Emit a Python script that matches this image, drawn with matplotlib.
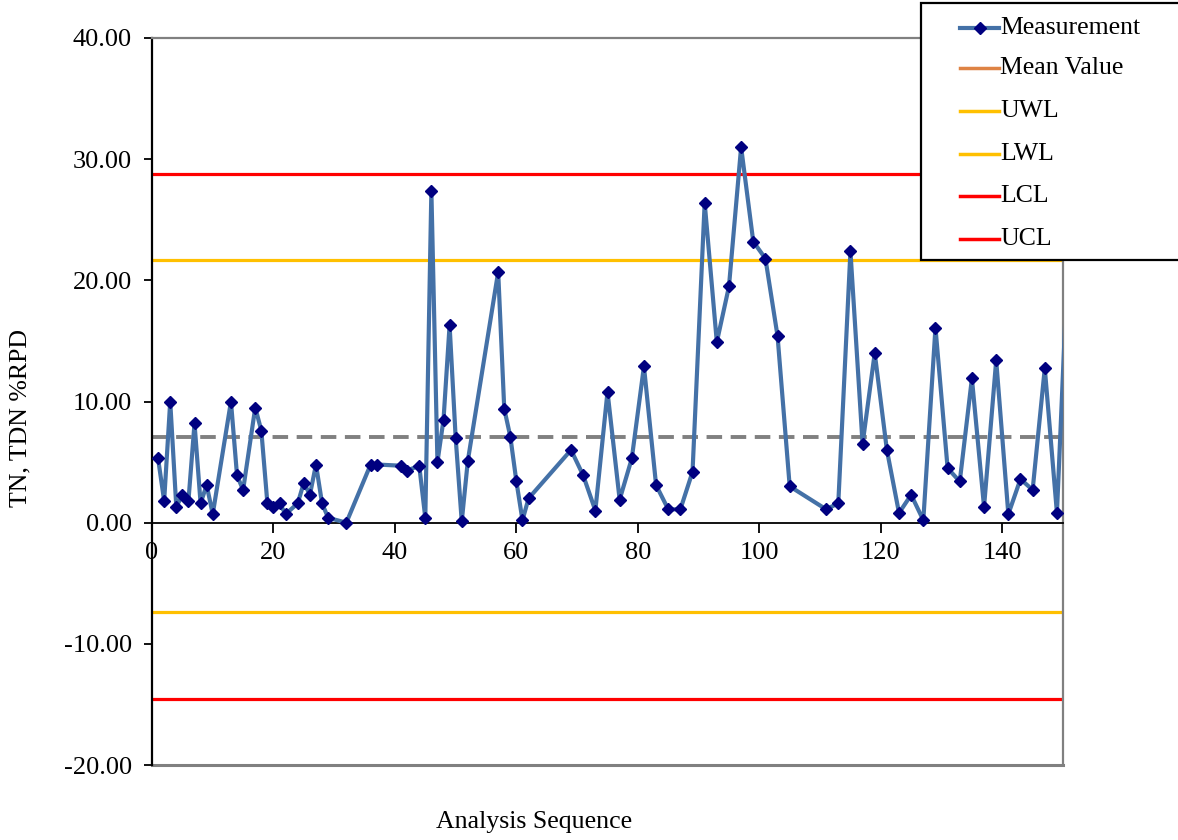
import matplotlib
matplotlib.use("Agg")
import matplotlib.pyplot as plt
from matplotlib.lines import Line2D
from matplotlib.patches import Rectangle

# ---- data ----
seq = [1, 2, 3, 4, 5, 6, 7, 8, 9, 10, 13, 14, 15, 17, 18, 19, 20, 21, 22, 24,
       25, 26, 27, 28, 29, 32, 36, 37, 41, 42, 44, 45, 46, 47, 48, 49, 50, 51,
       52, 57, 58, 59, 60, 61, 62, 69, 71, 73, 75, 77, 79, 81, 83, 85, 87, 89,
       91, 93, 95, 97, 99, 101, 103, 105, 111, 113, 115, 117, 119, 121, 123,
       125, 127, 129, 131, 133, 135, 137, 139, 141, 143, 145, 147, 149, 151]
rpd = [5.3, 1.8, 10.0, 1.3, 2.3, 1.8, 8.2, 1.6, 3.1, 0.7, 10.0, 3.9, 2.7, 9.5,
       7.6, 1.6, 1.3, 1.6, 0.7, 1.6, 3.3, 2.3, 4.8, 1.6, 0.4, 0.0, 4.8, 4.8,
       4.7, 4.3, 4.7, 0.4, 27.4, 5.0, 8.5, 16.3, 7.0, 0.1, 5.1, 20.7, 9.4, 7.1,
       3.4, 0.2, 2.0, 6.0, 3.9, 1.0, 10.8, 1.9, 5.3, 12.9, 3.1, 1.1, 1.1, 4.2,
       26.4, 14.9, 19.5, 31.0, 23.2, 21.8, 15.4, 3.0, 1.1, 1.6, 22.4, 6.5, 14.0,
       6.0, 0.8, 2.3, 0.2, 16.1, 4.5, 3.4, 11.9, 1.3, 13.4, 0.7, 3.6, 2.7,
       12.75, 0.8, 24.0]
mean_value = 7.1
uwl = 21.65
lwl = -7.4
ucl = 28.8
lcl = -14.55
legend_labels = ["Measurement", "Mean Value", "UWL", "LWL", "LCL", "UCL"]
x_ticks = [0, 20, 40, 60, 80, 100, 120, 140]
y_ticks = [-20, -10, 0, 10, 20, 30, 40]

# ---- style ----
plt.rcParams['font.family'] = ['Liberation Serif', 'DejaVu Serif']
FS_TICK = 19
FS_LAB = 18.6
FS_LEG = 18.5
c_meas = '#4471A7'
c_mark = '#000080'
c_mean_leg = '#DE8344'
c_yel = '#FFC000'
c_red = '#FF0000'
c_gray = '#808080'

fig = plt.figure(figsize=(11.78, 8.4), dpi=100)
ax = fig.add_axes([152/1178, 1-765/840, (1063-152)/1178, (765-38)/840])

ax.set_xlim(0, 150)
ax.set_ylim(-20, 40)

for val, col in [(uwl, c_yel), (lwl, c_yel), (ucl, c_red), (lcl, c_red)]:
    ax.axhline(val, color=col, lw=2.3, zorder=2)
ax.axhline(mean_value, color=c_gray, lw=2.8, ls=(0, (4, 2.2)), zorder=2)

ax.plot(seq, rpd, color=c_meas, lw=3, marker='D', ms=6.5,
        markerfacecolor=c_mark, markeredgecolor=c_mark, zorder=3)

# spines
ax.spines['bottom'].set_position(('data', 0))
ax.spines['bottom'].set_color('black')
ax.spines['bottom'].set_linewidth(1.3)
ax.spines['left'].set_color('black')
ax.spines['left'].set_linewidth(1.6)
for s in ['top', 'right']:
    ax.spines[s].set_color(c_gray)
    ax.spines[s].set_linewidth(1.6)
ax.add_line(Line2D([0, 1], [0, 0], transform=ax.transAxes, color=c_gray,
                   lw=2.2, clip_on=False, zorder=1))

ax.set_xticks(x_ticks)
ax.set_xticklabels([str(v) for v in x_ticks])
ax.set_yticks(y_ticks)
ax.set_yticklabels([f"{v:.2f}" for v in y_ticks])
ax.tick_params(axis='x', direction='out', length=7, width=1.3, pad=7,
               labelsize=FS_TICK, color='black')
ax.tick_params(axis='y', direction='out', length=5.5, width=1.3, pad=9,
               labelsize=FS_TICK, color='black')

fig.text(534/1178, 1-822/840, "Analysis Sequence", fontsize=FS_LAB,
         ha='center', va='center')
fig.text(20/1178, 1-418/840, "TN, TDN %RPD", fontsize=FS_LAB, rotation=90,
         ha='center', va='center')

# ---- legend box ----
lx0, ly0 = 921, 3
lw_box, lh_box = 260, 257
fig.patches.append(Rectangle((lx0/1178, 1-(ly0+lh_box)/840), lw_box/1178,
                             lh_box/840, transform=fig.transFigure,
                             facecolor='white', edgecolor='black', lw=1.6,
                             zorder=10))
leg_styles = [(c_meas, True), (c_mean_leg, False), (c_yel, False),
              (c_yel, False), (c_red, False), (c_red, False)]
row_y = [28, 68, 111, 154, 196, 239]
for lab, (col, mk), yy in zip(legend_labels, leg_styles, row_y):
    yf = 1 - yy/840
    fig.add_artist(Line2D([960/1178, 999/1178], [yf, yf],
                          transform=fig.transFigure, color=col,
                          lw=3 if mk else 2.5, zorder=11))
    if mk:
        fig.add_artist(Line2D([979.5/1178], [yf], transform=fig.transFigure,
                              marker='D', ms=6, color=c_mark, lw=0,
                              zorder=12))
    fig.text(1000/1178, yf, lab, fontsize=FS_LEG, ha='left', va='center',
             zorder=12)

fig.savefig("out.png", dpi=100)
